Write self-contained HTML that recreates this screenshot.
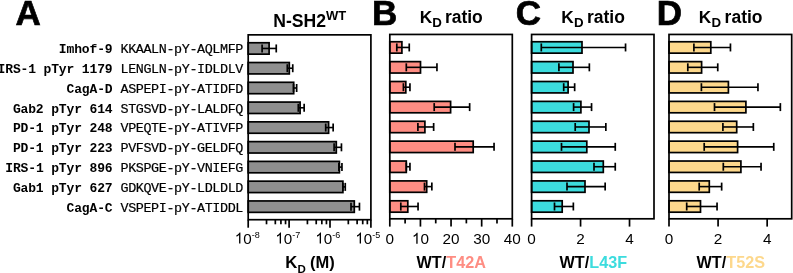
<!DOCTYPE html>
<html><head><meta charset="utf-8"><style>
html,body{margin:0;padding:0;background:#fff;width:793px;height:273px;overflow:hidden}
svg{display:block;will-change:transform}

</style></head><body>
<svg width="793" height="273" viewBox="0 0 793 273">
<rect width="793" height="273" fill="#fff"/>
<rect x="248.20" y="42.75" width="20.90" height="11.4" fill="#8f8f8f" stroke="#000" stroke-width="1.7"/>
<line x1="262.10" y1="48.45" x2="276.25" y2="48.45" stroke="#000" stroke-width="1.6"/>
<line x1="262.10" y1="44.45" x2="262.10" y2="52.45" stroke="#000" stroke-width="1.7"/>
<line x1="276.25" y1="44.45" x2="276.25" y2="52.45" stroke="#000" stroke-width="1.7"/>
<rect x="248.20" y="62.52" width="41.10" height="11.4" fill="#8f8f8f" stroke="#000" stroke-width="1.7"/>
<line x1="287.30" y1="68.22" x2="292.75" y2="68.22" stroke="#000" stroke-width="1.6"/>
<line x1="287.30" y1="64.22" x2="287.30" y2="72.22" stroke="#000" stroke-width="1.7"/>
<line x1="292.75" y1="64.22" x2="292.75" y2="72.22" stroke="#000" stroke-width="1.7"/>
<rect x="248.20" y="82.30" width="45.50" height="11.4" fill="#8f8f8f" stroke="#000" stroke-width="1.7"/>
<line x1="293.50" y1="88.00" x2="296.65" y2="88.00" stroke="#000" stroke-width="1.6"/>
<line x1="293.50" y1="84.00" x2="293.50" y2="92.00" stroke="#000" stroke-width="1.7"/>
<line x1="296.65" y1="84.00" x2="296.65" y2="92.00" stroke="#000" stroke-width="1.7"/>
<rect x="248.20" y="102.08" width="51.90" height="11.4" fill="#8f8f8f" stroke="#000" stroke-width="1.7"/>
<line x1="298.30" y1="107.78" x2="304.15" y2="107.78" stroke="#000" stroke-width="1.6"/>
<line x1="298.30" y1="103.78" x2="298.30" y2="111.78" stroke="#000" stroke-width="1.7"/>
<line x1="304.15" y1="103.78" x2="304.15" y2="111.78" stroke="#000" stroke-width="1.7"/>
<rect x="248.20" y="121.85" width="80.40" height="11.4" fill="#8f8f8f" stroke="#000" stroke-width="1.7"/>
<line x1="325.70" y1="127.55" x2="333.15" y2="127.55" stroke="#000" stroke-width="1.6"/>
<line x1="325.70" y1="123.55" x2="325.70" y2="131.55" stroke="#000" stroke-width="1.7"/>
<line x1="333.15" y1="123.55" x2="333.15" y2="131.55" stroke="#000" stroke-width="1.7"/>
<rect x="248.20" y="141.62" width="88.10" height="11.4" fill="#8f8f8f" stroke="#000" stroke-width="1.7"/>
<line x1="334.10" y1="147.32" x2="341.45" y2="147.32" stroke="#000" stroke-width="1.6"/>
<line x1="334.10" y1="143.32" x2="334.10" y2="151.32" stroke="#000" stroke-width="1.7"/>
<line x1="341.45" y1="143.32" x2="341.45" y2="151.32" stroke="#000" stroke-width="1.7"/>
<rect x="248.20" y="161.40" width="91.20" height="11.4" fill="#8f8f8f" stroke="#000" stroke-width="1.7"/>
<line x1="338.90" y1="167.10" x2="341.95" y2="167.10" stroke="#000" stroke-width="1.6"/>
<line x1="338.90" y1="163.10" x2="338.90" y2="171.10" stroke="#000" stroke-width="1.7"/>
<line x1="341.95" y1="163.10" x2="341.95" y2="171.10" stroke="#000" stroke-width="1.7"/>
<rect x="248.20" y="181.18" width="94.70" height="11.4" fill="#8f8f8f" stroke="#000" stroke-width="1.7"/>
<line x1="342.90" y1="186.88" x2="345.25" y2="186.88" stroke="#000" stroke-width="1.6"/>
<line x1="342.90" y1="182.88" x2="342.90" y2="190.88" stroke="#000" stroke-width="1.7"/>
<line x1="345.25" y1="182.88" x2="345.25" y2="190.88" stroke="#000" stroke-width="1.7"/>
<rect x="248.20" y="200.95" width="106.10" height="11.4" fill="#8f8f8f" stroke="#000" stroke-width="1.7"/>
<line x1="351.00" y1="206.65" x2="359.45" y2="206.65" stroke="#000" stroke-width="1.6"/>
<line x1="351.00" y1="202.65" x2="351.00" y2="210.65" stroke="#000" stroke-width="1.7"/>
<line x1="359.45" y1="202.65" x2="359.45" y2="210.65" stroke="#000" stroke-width="1.7"/>
<rect x="248.20" y="34.85" width="122.70" height="184.85" fill="none" stroke="#000" stroke-width="1.7" stroke-linecap="square"/>
<line x1="248.20" y1="219.70" x2="248.20" y2="227.70" stroke="#000" stroke-width="1.7"/>
<line x1="289.10" y1="219.70" x2="289.10" y2="227.70" stroke="#000" stroke-width="1.7"/>
<line x1="330.00" y1="219.70" x2="330.00" y2="227.70" stroke="#000" stroke-width="1.7"/>
<line x1="370.90" y1="219.70" x2="370.90" y2="227.70" stroke="#000" stroke-width="1.7"/>
<line x1="266.52" y1="219.70" x2="266.52" y2="224.30" stroke="#000" stroke-width="1.7"/>
<line x1="275.32" y1="219.70" x2="275.32" y2="224.30" stroke="#000" stroke-width="1.7"/>
<line x1="280.92" y1="219.70" x2="280.92" y2="224.30" stroke="#000" stroke-width="1.7"/>
<line x1="285.54" y1="219.70" x2="285.54" y2="224.30" stroke="#000" stroke-width="1.7"/>
<line x1="307.42" y1="219.70" x2="307.42" y2="224.30" stroke="#000" stroke-width="1.7"/>
<line x1="316.22" y1="219.70" x2="316.22" y2="224.30" stroke="#000" stroke-width="1.7"/>
<line x1="321.82" y1="219.70" x2="321.82" y2="224.30" stroke="#000" stroke-width="1.7"/>
<line x1="326.44" y1="219.70" x2="326.44" y2="224.30" stroke="#000" stroke-width="1.7"/>
<line x1="348.32" y1="219.70" x2="348.32" y2="224.30" stroke="#000" stroke-width="1.7"/>
<line x1="357.12" y1="219.70" x2="357.12" y2="224.30" stroke="#000" stroke-width="1.7"/>
<line x1="362.72" y1="219.70" x2="362.72" y2="224.30" stroke="#000" stroke-width="1.7"/>
<line x1="367.34" y1="219.70" x2="367.34" y2="224.30" stroke="#000" stroke-width="1.7"/>
<rect x="389.80" y="41.75" width="12.10" height="11.4" fill="#fe8d83" stroke="#000" stroke-width="1.7"/>
<line x1="396.80" y1="47.45" x2="409.25" y2="47.45" stroke="#000" stroke-width="1.6"/>
<line x1="396.80" y1="43.45" x2="396.80" y2="51.45" stroke="#000" stroke-width="1.7"/>
<line x1="409.25" y1="43.45" x2="409.25" y2="51.45" stroke="#000" stroke-width="1.7"/>
<rect x="389.80" y="61.63" width="30.70" height="11.4" fill="#fe8d83" stroke="#000" stroke-width="1.7"/>
<line x1="406.30" y1="67.33" x2="436.95" y2="67.33" stroke="#000" stroke-width="1.6"/>
<line x1="406.30" y1="63.33" x2="406.30" y2="71.33" stroke="#000" stroke-width="1.7"/>
<line x1="436.95" y1="63.33" x2="436.95" y2="71.33" stroke="#000" stroke-width="1.7"/>
<rect x="389.80" y="81.51" width="16.00" height="11.4" fill="#fe8d83" stroke="#000" stroke-width="1.7"/>
<line x1="403.40" y1="87.21" x2="409.95" y2="87.21" stroke="#000" stroke-width="1.6"/>
<line x1="403.40" y1="83.21" x2="403.40" y2="91.21" stroke="#000" stroke-width="1.7"/>
<line x1="409.95" y1="83.21" x2="409.95" y2="91.21" stroke="#000" stroke-width="1.7"/>
<rect x="389.80" y="101.39" width="60.80" height="11.4" fill="#fe8d83" stroke="#000" stroke-width="1.7"/>
<line x1="434.20" y1="107.09" x2="469.65" y2="107.09" stroke="#000" stroke-width="1.6"/>
<line x1="434.20" y1="103.09" x2="434.20" y2="111.09" stroke="#000" stroke-width="1.7"/>
<line x1="469.65" y1="103.09" x2="469.65" y2="111.09" stroke="#000" stroke-width="1.7"/>
<rect x="389.80" y="121.27" width="35.10" height="11.4" fill="#fe8d83" stroke="#000" stroke-width="1.7"/>
<line x1="417.90" y1="126.97" x2="433.65" y2="126.97" stroke="#000" stroke-width="1.6"/>
<line x1="417.90" y1="122.97" x2="417.90" y2="130.97" stroke="#000" stroke-width="1.7"/>
<line x1="433.65" y1="122.97" x2="433.65" y2="130.97" stroke="#000" stroke-width="1.7"/>
<rect x="389.80" y="141.15" width="83.40" height="11.4" fill="#fe8d83" stroke="#000" stroke-width="1.7"/>
<line x1="455.00" y1="146.85" x2="494.05" y2="146.85" stroke="#000" stroke-width="1.6"/>
<line x1="455.00" y1="142.85" x2="455.00" y2="150.85" stroke="#000" stroke-width="1.7"/>
<line x1="494.05" y1="142.85" x2="494.05" y2="150.85" stroke="#000" stroke-width="1.7"/>
<rect x="389.80" y="161.03" width="16.50" height="11.4" fill="#fe8d83" stroke="#000" stroke-width="1.7"/>
<line x1="406.30" y1="166.73" x2="409.95" y2="166.73" stroke="#000" stroke-width="1.6"/>
<line x1="406.30" y1="162.73" x2="406.30" y2="170.73" stroke="#000" stroke-width="1.7"/>
<line x1="409.95" y1="162.73" x2="409.95" y2="170.73" stroke="#000" stroke-width="1.7"/>
<rect x="389.80" y="180.91" width="36.90" height="11.4" fill="#fe8d83" stroke="#000" stroke-width="1.7"/>
<line x1="424.50" y1="186.61" x2="431.85" y2="186.61" stroke="#000" stroke-width="1.6"/>
<line x1="424.50" y1="182.61" x2="424.50" y2="190.61" stroke="#000" stroke-width="1.7"/>
<line x1="431.85" y1="182.61" x2="431.85" y2="190.61" stroke="#000" stroke-width="1.7"/>
<rect x="389.80" y="200.79" width="18.00" height="11.4" fill="#fe8d83" stroke="#000" stroke-width="1.7"/>
<line x1="400.80" y1="206.49" x2="418.05" y2="206.49" stroke="#000" stroke-width="1.6"/>
<line x1="400.80" y1="202.49" x2="400.80" y2="210.49" stroke="#000" stroke-width="1.7"/>
<line x1="418.05" y1="202.49" x2="418.05" y2="210.49" stroke="#000" stroke-width="1.7"/>
<rect x="389.80" y="34.45" width="122.50" height="184.35" fill="none" stroke="#000" stroke-width="1.7" stroke-linecap="square"/>
<line x1="389.80" y1="218.80" x2="389.80" y2="226.60" stroke="#000" stroke-width="1.7"/>
<line x1="420.43" y1="218.80" x2="420.43" y2="226.60" stroke="#000" stroke-width="1.7"/>
<line x1="451.05" y1="218.80" x2="451.05" y2="226.60" stroke="#000" stroke-width="1.7"/>
<line x1="481.67" y1="218.80" x2="481.67" y2="226.60" stroke="#000" stroke-width="1.7"/>
<line x1="512.30" y1="218.80" x2="512.30" y2="226.60" stroke="#000" stroke-width="1.7"/>
<line x1="405.11" y1="218.80" x2="405.11" y2="223.40" stroke="#000" stroke-width="1.7"/>
<line x1="435.74" y1="218.80" x2="435.74" y2="223.40" stroke="#000" stroke-width="1.7"/>
<line x1="466.36" y1="218.80" x2="466.36" y2="223.40" stroke="#000" stroke-width="1.7"/>
<line x1="496.99" y1="218.80" x2="496.99" y2="223.40" stroke="#000" stroke-width="1.7"/>
<rect x="531.60" y="41.75" width="50.40" height="11.4" fill="#3cdcde" stroke="#000" stroke-width="1.7"/>
<line x1="541.30" y1="47.45" x2="625.55" y2="47.45" stroke="#000" stroke-width="1.6"/>
<line x1="541.30" y1="43.45" x2="541.30" y2="51.45" stroke="#000" stroke-width="1.7"/>
<line x1="625.55" y1="43.45" x2="625.55" y2="51.45" stroke="#000" stroke-width="1.7"/>
<rect x="531.60" y="61.63" width="41.40" height="11.4" fill="#3cdcde" stroke="#000" stroke-width="1.7"/>
<line x1="558.90" y1="67.33" x2="589.35" y2="67.33" stroke="#000" stroke-width="1.6"/>
<line x1="558.90" y1="63.33" x2="558.90" y2="71.33" stroke="#000" stroke-width="1.7"/>
<line x1="589.35" y1="63.33" x2="589.35" y2="71.33" stroke="#000" stroke-width="1.7"/>
<rect x="531.60" y="81.51" width="36.50" height="11.4" fill="#3cdcde" stroke="#000" stroke-width="1.7"/>
<line x1="563.70" y1="87.21" x2="574.65" y2="87.21" stroke="#000" stroke-width="1.6"/>
<line x1="563.70" y1="83.21" x2="563.70" y2="91.21" stroke="#000" stroke-width="1.7"/>
<line x1="574.65" y1="83.21" x2="574.65" y2="91.21" stroke="#000" stroke-width="1.7"/>
<rect x="531.60" y="101.39" width="49.30" height="11.4" fill="#3cdcde" stroke="#000" stroke-width="1.7"/>
<line x1="573.60" y1="107.09" x2="591.55" y2="107.09" stroke="#000" stroke-width="1.6"/>
<line x1="573.60" y1="103.09" x2="573.60" y2="111.09" stroke="#000" stroke-width="1.7"/>
<line x1="591.55" y1="103.09" x2="591.55" y2="111.09" stroke="#000" stroke-width="1.7"/>
<rect x="531.60" y="121.27" width="57.40" height="11.4" fill="#3cdcde" stroke="#000" stroke-width="1.7"/>
<line x1="575.20" y1="126.97" x2="605.85" y2="126.97" stroke="#000" stroke-width="1.6"/>
<line x1="575.20" y1="122.97" x2="575.20" y2="130.97" stroke="#000" stroke-width="1.7"/>
<line x1="605.85" y1="122.97" x2="605.85" y2="130.97" stroke="#000" stroke-width="1.7"/>
<rect x="531.60" y="141.15" width="55.20" height="11.4" fill="#3cdcde" stroke="#000" stroke-width="1.7"/>
<line x1="561.50" y1="146.85" x2="615.25" y2="146.85" stroke="#000" stroke-width="1.6"/>
<line x1="561.50" y1="142.85" x2="561.50" y2="150.85" stroke="#000" stroke-width="1.7"/>
<line x1="615.25" y1="142.85" x2="615.25" y2="150.85" stroke="#000" stroke-width="1.7"/>
<rect x="531.60" y="161.03" width="71.70" height="11.4" fill="#3cdcde" stroke="#000" stroke-width="1.7"/>
<line x1="594.00" y1="166.73" x2="615.25" y2="166.73" stroke="#000" stroke-width="1.6"/>
<line x1="594.00" y1="162.73" x2="594.00" y2="170.73" stroke="#000" stroke-width="1.7"/>
<line x1="615.25" y1="162.73" x2="615.25" y2="170.73" stroke="#000" stroke-width="1.7"/>
<rect x="531.60" y="180.91" width="53.40" height="11.4" fill="#3cdcde" stroke="#000" stroke-width="1.7"/>
<line x1="567.00" y1="186.61" x2="605.15" y2="186.61" stroke="#000" stroke-width="1.6"/>
<line x1="567.00" y1="182.61" x2="567.00" y2="190.61" stroke="#000" stroke-width="1.7"/>
<line x1="605.15" y1="182.61" x2="605.15" y2="190.61" stroke="#000" stroke-width="1.7"/>
<rect x="531.60" y="200.79" width="30.60" height="11.4" fill="#3cdcde" stroke="#000" stroke-width="1.7"/>
<line x1="554.50" y1="206.49" x2="573.35" y2="206.49" stroke="#000" stroke-width="1.6"/>
<line x1="554.50" y1="202.49" x2="554.50" y2="210.49" stroke="#000" stroke-width="1.7"/>
<line x1="573.35" y1="202.49" x2="573.35" y2="210.49" stroke="#000" stroke-width="1.7"/>
<rect x="531.60" y="34.45" width="122.40" height="184.35" fill="none" stroke="#000" stroke-width="1.7" stroke-linecap="square"/>
<line x1="531.60" y1="218.80" x2="531.60" y2="226.60" stroke="#000" stroke-width="1.7"/>
<line x1="580.56" y1="218.80" x2="580.56" y2="226.60" stroke="#000" stroke-width="1.7"/>
<line x1="629.52" y1="218.80" x2="629.52" y2="226.60" stroke="#000" stroke-width="1.7"/>
<rect x="669.00" y="41.75" width="41.80" height="11.4" fill="#fdd88c" stroke="#000" stroke-width="1.7"/>
<line x1="693.90" y1="47.45" x2="730.45" y2="47.45" stroke="#000" stroke-width="1.6"/>
<line x1="693.90" y1="43.45" x2="693.90" y2="51.45" stroke="#000" stroke-width="1.7"/>
<line x1="730.45" y1="43.45" x2="730.45" y2="51.45" stroke="#000" stroke-width="1.7"/>
<rect x="669.00" y="61.63" width="32.60" height="11.4" fill="#fdd88c" stroke="#000" stroke-width="1.7"/>
<line x1="687.80" y1="67.33" x2="717.75" y2="67.33" stroke="#000" stroke-width="1.6"/>
<line x1="687.80" y1="63.33" x2="687.80" y2="71.33" stroke="#000" stroke-width="1.7"/>
<line x1="717.75" y1="63.33" x2="717.75" y2="71.33" stroke="#000" stroke-width="1.7"/>
<rect x="669.00" y="81.51" width="59.40" height="11.4" fill="#fdd88c" stroke="#000" stroke-width="1.7"/>
<line x1="701.40" y1="87.21" x2="757.95" y2="87.21" stroke="#000" stroke-width="1.6"/>
<line x1="701.40" y1="83.21" x2="701.40" y2="91.21" stroke="#000" stroke-width="1.7"/>
<line x1="757.95" y1="83.21" x2="757.95" y2="91.21" stroke="#000" stroke-width="1.7"/>
<rect x="669.00" y="101.39" width="76.90" height="11.4" fill="#fdd88c" stroke="#000" stroke-width="1.7"/>
<line x1="714.50" y1="107.09" x2="780.35" y2="107.09" stroke="#000" stroke-width="1.6"/>
<line x1="714.50" y1="103.09" x2="714.50" y2="111.09" stroke="#000" stroke-width="1.7"/>
<line x1="780.35" y1="103.09" x2="780.35" y2="111.09" stroke="#000" stroke-width="1.7"/>
<rect x="669.00" y="121.27" width="67.70" height="11.4" fill="#fdd88c" stroke="#000" stroke-width="1.7"/>
<line x1="722.90" y1="126.97" x2="753.35" y2="126.97" stroke="#000" stroke-width="1.6"/>
<line x1="722.90" y1="122.97" x2="722.90" y2="130.97" stroke="#000" stroke-width="1.7"/>
<line x1="753.35" y1="122.97" x2="753.35" y2="130.97" stroke="#000" stroke-width="1.7"/>
<rect x="669.00" y="141.15" width="68.60" height="11.4" fill="#fdd88c" stroke="#000" stroke-width="1.7"/>
<line x1="704.20" y1="146.85" x2="773.75" y2="146.85" stroke="#000" stroke-width="1.6"/>
<line x1="704.20" y1="142.85" x2="704.20" y2="150.85" stroke="#000" stroke-width="1.7"/>
<line x1="773.75" y1="142.85" x2="773.75" y2="150.85" stroke="#000" stroke-width="1.7"/>
<rect x="669.00" y="161.03" width="71.90" height="11.4" fill="#fdd88c" stroke="#000" stroke-width="1.7"/>
<line x1="723.30" y1="166.73" x2="761.05" y2="166.73" stroke="#000" stroke-width="1.6"/>
<line x1="723.30" y1="162.73" x2="723.30" y2="170.73" stroke="#000" stroke-width="1.7"/>
<line x1="761.05" y1="162.73" x2="761.05" y2="170.73" stroke="#000" stroke-width="1.7"/>
<rect x="669.00" y="180.91" width="40.30" height="11.4" fill="#fdd88c" stroke="#000" stroke-width="1.7"/>
<line x1="699.20" y1="186.61" x2="721.65" y2="186.61" stroke="#000" stroke-width="1.6"/>
<line x1="699.20" y1="182.61" x2="699.20" y2="190.61" stroke="#000" stroke-width="1.7"/>
<line x1="721.65" y1="182.61" x2="721.65" y2="190.61" stroke="#000" stroke-width="1.7"/>
<rect x="669.00" y="200.79" width="31.50" height="11.4" fill="#fdd88c" stroke="#000" stroke-width="1.7"/>
<line x1="686.70" y1="206.49" x2="717.05" y2="206.49" stroke="#000" stroke-width="1.6"/>
<line x1="686.70" y1="202.49" x2="686.70" y2="210.49" stroke="#000" stroke-width="1.7"/>
<line x1="717.05" y1="202.49" x2="717.05" y2="210.49" stroke="#000" stroke-width="1.7"/>
<rect x="669.00" y="34.45" width="122.70" height="184.35" fill="none" stroke="#000" stroke-width="1.7" stroke-linecap="square"/>
<line x1="669.00" y1="218.80" x2="669.00" y2="226.60" stroke="#000" stroke-width="1.7"/>
<line x1="718.08" y1="218.80" x2="718.08" y2="226.60" stroke="#000" stroke-width="1.7"/>
<line x1="767.16" y1="218.80" x2="767.16" y2="226.60" stroke="#000" stroke-width="1.7"/>
<text x="15.5" y="25.4" font-size="35" font-weight="bold" text-anchor="start" font-family="'Liberation Sans', sans-serif" fill="#000" stroke="#000" stroke-width="0.7">A</text>
<text x="372.0" y="25.4" font-size="35" font-weight="bold" text-anchor="start" font-family="'Liberation Sans', sans-serif" fill="#000" stroke="#000" stroke-width="0.7">B</text>
<text x="515.7" y="25.4" font-size="35" font-weight="bold" text-anchor="start" font-family="'Liberation Sans', sans-serif" fill="#000" stroke="#000" stroke-width="0.7">C</text>
<text x="656.8" y="25.4" font-size="35" font-weight="bold" text-anchor="start" font-family="'Liberation Sans', sans-serif" fill="#000" stroke="#000" stroke-width="0.7">D</text>
<text x="273.3" y="26.7" font-family="'Liberation Sans', sans-serif" font-weight="bold" font-size="17.6">N-SH2<tspan font-size="13" dy="-6.4">WT</tspan></text>
<text x="419.80" y="22.7" font-family="'Liberation Sans', sans-serif" font-weight="bold" font-size="17.3">K</text>
<text x="432.20" y="27.0" font-family="'Liberation Sans', sans-serif" font-weight="bold" font-size="13.3">D</text>
<text x="444.90" y="22.7" font-family="'Liberation Sans', sans-serif" font-weight="bold" font-size="17.5">ratio</text>
<text x="561.30" y="22.7" font-family="'Liberation Sans', sans-serif" font-weight="bold" font-size="17.3">K</text>
<text x="573.90" y="27.0" font-family="'Liberation Sans', sans-serif" font-weight="bold" font-size="13.3">D</text>
<text x="587.00" y="22.7" font-family="'Liberation Sans', sans-serif" font-weight="bold" font-size="17.5">ratio</text>
<text x="698.80" y="22.7" font-family="'Liberation Sans', sans-serif" font-weight="bold" font-size="17.3">K</text>
<text x="711.40" y="27.0" font-family="'Liberation Sans', sans-serif" font-weight="bold" font-size="13.3">D</text>
<text x="724.60" y="22.7" font-family="'Liberation Sans', sans-serif" font-weight="bold" font-size="17.5">ratio</text>
<text x="112.5" y="53.35" text-anchor="end" font-family="'Liberation Mono', monospace" font-weight="bold" font-size="13.0" letter-spacing="-0.140">Imhof-9</text>
<text x="120.5" y="53.35" font-family="'Liberation Mono', monospace" font-size="13.4" letter-spacing="-0.380" stroke="#000" stroke-width="0.2">KKAALN-pY-AQLMFP</text>
<text x="112.5" y="73.12" text-anchor="end" font-family="'Liberation Mono', monospace" font-weight="bold" font-size="13.0" letter-spacing="-0.140">IRS-1 pTyr 1179</text>
<text x="120.5" y="73.12" font-family="'Liberation Mono', monospace" font-size="13.4" letter-spacing="-0.380" stroke="#000" stroke-width="0.2">LENGLN-pY-IDLDLV</text>
<text x="112.5" y="92.90" text-anchor="end" font-family="'Liberation Mono', monospace" font-weight="bold" font-size="13.0" letter-spacing="-0.140">CagA-D</text>
<text x="120.5" y="92.90" font-family="'Liberation Mono', monospace" font-size="13.4" letter-spacing="-0.380" stroke="#000" stroke-width="0.2">ASPEPI-pY-ATIDFD</text>
<text x="112.5" y="112.68" text-anchor="end" font-family="'Liberation Mono', monospace" font-weight="bold" font-size="13.0" letter-spacing="-0.140">Gab2 pTyr 614</text>
<text x="120.5" y="112.68" font-family="'Liberation Mono', monospace" font-size="13.4" letter-spacing="-0.380" stroke="#000" stroke-width="0.2">STGSVD-pY-LALDFQ</text>
<text x="112.5" y="132.45" text-anchor="end" font-family="'Liberation Mono', monospace" font-weight="bold" font-size="13.0" letter-spacing="-0.140">PD-1 pTyr 248</text>
<text x="120.5" y="132.45" font-family="'Liberation Mono', monospace" font-size="13.4" letter-spacing="-0.380" stroke="#000" stroke-width="0.2">VPEQTE-pY-ATIVFP</text>
<text x="112.5" y="152.22" text-anchor="end" font-family="'Liberation Mono', monospace" font-weight="bold" font-size="13.0" letter-spacing="-0.140">PD-1 pTyr 223</text>
<text x="120.5" y="152.22" font-family="'Liberation Mono', monospace" font-size="13.4" letter-spacing="-0.380" stroke="#000" stroke-width="0.2">PVFSVD-pY-GELDFQ</text>
<text x="112.5" y="172.00" text-anchor="end" font-family="'Liberation Mono', monospace" font-weight="bold" font-size="13.0" letter-spacing="-0.140">IRS-1 pTyr 896</text>
<text x="120.5" y="172.00" font-family="'Liberation Mono', monospace" font-size="13.4" letter-spacing="-0.380" stroke="#000" stroke-width="0.2">PKSPGE-pY-VNIEFG</text>
<text x="112.5" y="191.78" text-anchor="end" font-family="'Liberation Mono', monospace" font-weight="bold" font-size="13.0" letter-spacing="-0.140">Gab1 pTyr 627</text>
<text x="120.5" y="191.78" font-family="'Liberation Mono', monospace" font-size="13.4" letter-spacing="-0.380" stroke="#000" stroke-width="0.2">GDKQVE-pY-LDLDLD</text>
<text x="112.5" y="211.55" text-anchor="end" font-family="'Liberation Mono', monospace" font-weight="bold" font-size="13.0" letter-spacing="-0.140">CagA-C</text>
<text x="120.5" y="211.55" font-family="'Liberation Mono', monospace" font-size="13.4" letter-spacing="-0.380" stroke="#000" stroke-width="0.2">VSPEPI-pY-ATIDDL</text>
<path d="M763 0H583V1147Q518 1085 412.5 1023T223 930V1104Q374 1175 487 1276T647 1466H763Z" transform="translate(234.75,243.5) scale(0.00742,-0.00742)" fill="#000"/>
<text x="243.20" y="243.5" font-family="'Liberation Sans', sans-serif" font-size="15.2">0<tspan font-size="9" dy="-5.3">-8</tspan></text>
<path d="M763 0H583V1147Q518 1085 412.5 1023T223 930V1104Q374 1175 487 1276T647 1466H763Z" transform="translate(275.35,243.5) scale(0.00742,-0.00742)" fill="#000"/>
<text x="283.80" y="243.5" font-family="'Liberation Sans', sans-serif" font-size="15.2">0<tspan font-size="9" dy="-5.3">-7</tspan></text>
<path d="M763 0H583V1147Q518 1085 412.5 1023T223 930V1104Q374 1175 487 1276T647 1466H763Z" transform="translate(315.35,243.5) scale(0.00742,-0.00742)" fill="#000"/>
<text x="323.80" y="243.5" font-family="'Liberation Sans', sans-serif" font-size="15.2">0<tspan font-size="9" dy="-5.3">-6</tspan></text>
<path d="M763 0H583V1147Q518 1085 412.5 1023T223 930V1104Q374 1175 487 1276T647 1466H763Z" transform="translate(355.35,243.5) scale(0.00742,-0.00742)" fill="#000"/>
<text x="363.80" y="243.5" font-family="'Liberation Sans', sans-serif" font-size="15.2">0<tspan font-size="9" dy="-5.3">-5</tspan></text>
<text x="285.3" y="267.6" font-family="'Liberation Sans', sans-serif" font-weight="bold" font-size="16.7">K</text>
<text x="297.5" y="273.3" font-family="'Liberation Sans', sans-serif" font-weight="bold" font-size="11.5">D</text>
<text x="310.0" y="267.6" font-family="'Liberation Sans', sans-serif" font-weight="bold" font-size="16.5">(M)</text>
<text x="389.80" y="243.8" text-anchor="middle" font-family="'Liberation Sans', sans-serif" font-size="15.3">0</text>
<path d="M763 0H583V1147Q518 1085 412.5 1023T223 930V1104Q374 1175 487 1276T647 1466H763Z" transform="translate(411.92,243.8) scale(0.00747,-0.00747)" fill="#000"/>
<text x="420.43" y="243.8" font-family="'Liberation Sans', sans-serif" font-size="15.3">0</text>
<text x="451.05" y="243.8" text-anchor="middle" font-family="'Liberation Sans', sans-serif" font-size="15.3">20</text>
<text x="481.67" y="243.8" text-anchor="middle" font-family="'Liberation Sans', sans-serif" font-size="15.3">30</text>
<text x="512.30" y="243.8" text-anchor="middle" font-family="'Liberation Sans', sans-serif" font-size="15.3">40</text>
<text x="531.60" y="243.8" text-anchor="middle" font-family="'Liberation Sans', sans-serif" font-size="15.3">0</text>
<text x="580.56" y="243.8" text-anchor="middle" font-family="'Liberation Sans', sans-serif" font-size="15.3">2</text>
<text x="629.52" y="243.8" text-anchor="middle" font-family="'Liberation Sans', sans-serif" font-size="15.3">4</text>
<text x="669.00" y="243.8" text-anchor="middle" font-family="'Liberation Sans', sans-serif" font-size="15.3">0</text>
<text x="718.08" y="243.8" text-anchor="middle" font-family="'Liberation Sans', sans-serif" font-size="15.3">2</text>
<text x="767.16" y="243.8" text-anchor="middle" font-family="'Liberation Sans', sans-serif" font-size="15.3">4</text>
<text x="416.6" y="267.7" font-family="'Liberation Sans', sans-serif" font-weight="bold" font-size="16.2">WT/<tspan fill="#fe8d83">T42A</tspan></text>
<text x="559.6" y="267.7" font-family="'Liberation Sans', sans-serif" font-weight="bold" font-size="16.2">WT/<tspan fill="#3cdcde">L43F</tspan></text>
<text x="696.6" y="267.7" font-family="'Liberation Sans', sans-serif" font-weight="bold" font-size="16.2">WT/<tspan fill="#fdd88c">T52S</tspan></text>
</svg>
</body></html>
